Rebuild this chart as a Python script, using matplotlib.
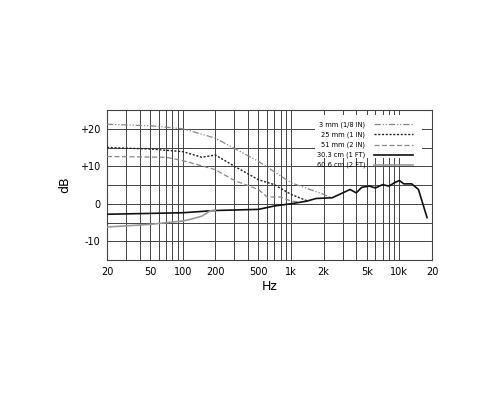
import matplotlib
matplotlib.use("Agg")
import matplotlib.pyplot as plt
from matplotlib.patches import Rectangle

f_3mm = [20, 50, 100, 200, 500, 1000, 2000, 2300]
db_3mm = [21.2, 20.8, 20.0, 17.5, 11.3, 5.6, 2.5, 1.7]
f_25mm = [20, 50, 100, 150, 200, 300, 500, 700, 1000, 1400]
db_25mm = [15.0, 14.6, 13.9, 12.4, 13.0, 10.0, 6.4, 5.1, 2.5, 0.8]
f_51mm = [20, 70, 100, 200, 300, 500, 600, 800, 1000, 1200]
db_51mm = [12.6, 12.4, 11.5, 9.1, 6.2, 3.8, 1.8, 1.8, 0.7, 0.5]
f_30cm = [20, 100, 200, 500, 700, 1000, 1400, 1700, 2400, 3000, 3500, 4000, 4500,
          5300, 6000, 7000, 8000, 9000, 10000, 11000, 13000, 15000, 18000]
db_30cm = [-2.8, -2.4, -1.8, -1.5, -0.6, 0.0, 0.7, 1.4, 1.6, 2.9, 3.8, 2.9, 4.4,
           4.7, 4.2, 5.1, 4.7, 5.6, 6.2, 5.3, 5.3, 3.8, -3.7]
f_60cm = [20, 50, 100, 120, 150, 180, 200]
db_60cm = [-6.2, -5.5, -4.6, -4.1, -3.3, -1.9, -1.8]

labels = ["3 mm (1/8 IN)", "25 mm (1 IN)", "51 mm (2 IN)", "30.3 cm (1 FT)", "60.6 cm (2 FT)"]
xticks = [20, 50, 100, 200, 500, 1000, 2000, 5000, 10000, 20000]
xticklabels = ["20", "50", "100", "200", "500", "1k", "2k", "5k", "10k", "20"]
yticks = [20, 10, 0, -10]
yticklabels = ["+20", "+10", "0", "-10"]

fig = plt.figure(figsize=(5, 4), dpi=100)
ax = fig.add_axes([0.214, 0.35, 0.65, 0.375])
ax.set_xscale("log")
ax.set_xlim(20, 20000)
ax.set_ylim(-15, 25)

grid_x = [20, 30, 40, 50, 60, 70, 80, 90, 100, 200, 300, 400, 500, 600, 700, 800, 900,
          1000, 2000, 3000, 4000, 5000, 6000, 7000, 8000, 9000, 10000, 20000]
for g in grid_x:
    ax.axvline(g, color="#444444", lw=0.7, zorder=0)
for g in range(-15, 26, 5):
    ax.axhline(g, color="#444444", lw=0.7, zorder=0)

ax.add_patch(Rectangle((0.64, 0.68), 0.33, 0.29, transform=ax.transAxes,
                       facecolor="white", edgecolor="none", zorder=1))

styles = [
    (f_3mm, db_3mm, dict(color="#888888", lw=0.9, dashes=(5, 1.5, 1, 1.5, 1, 1.5))),
    (f_25mm, db_25mm, dict(color="#222222", lw=1.0, dashes=(1.5, 1.2))),
    (f_51mm, db_51mm, dict(color="#888888", lw=0.9, dashes=(4, 2))),
    (f_30cm, db_30cm, dict(color="#111111", lw=1.2)),
    (f_60cm, db_60cm, dict(color="#999999", lw=1.2)),
]
for i, (fx, dy, st) in enumerate(styles):
    ax.plot(fx, dy, zorder=3, **st)
    yl = 0.905 - i * 0.068
    ax.text(0.795, yl, labels[i], transform=ax.transAxes, ha="right", va="center",
            fontsize=4.8, zorder=4)
    ax.plot([0.82, 0.94], [yl, yl], transform=ax.transAxes, zorder=4, **st)

ax.set_xticks(xticks)
ax.set_xticklabels(xticklabels, fontsize=7)
ax.set_xticks([], minor=True)
ax.set_yticks(yticks)
ax.set_yticklabels(yticklabels, fontsize=7)
ax.tick_params(length=0, pad=5)
for s in ax.spines.values():
    s.set_color("#444444")
    s.set_linewidth(0.8)
ax.set_xlabel("Hz", fontsize=9, labelpad=2)
ax.set_ylabel("dB", fontsize=9, labelpad=6)
fig.savefig("out.png", dpi=100)
